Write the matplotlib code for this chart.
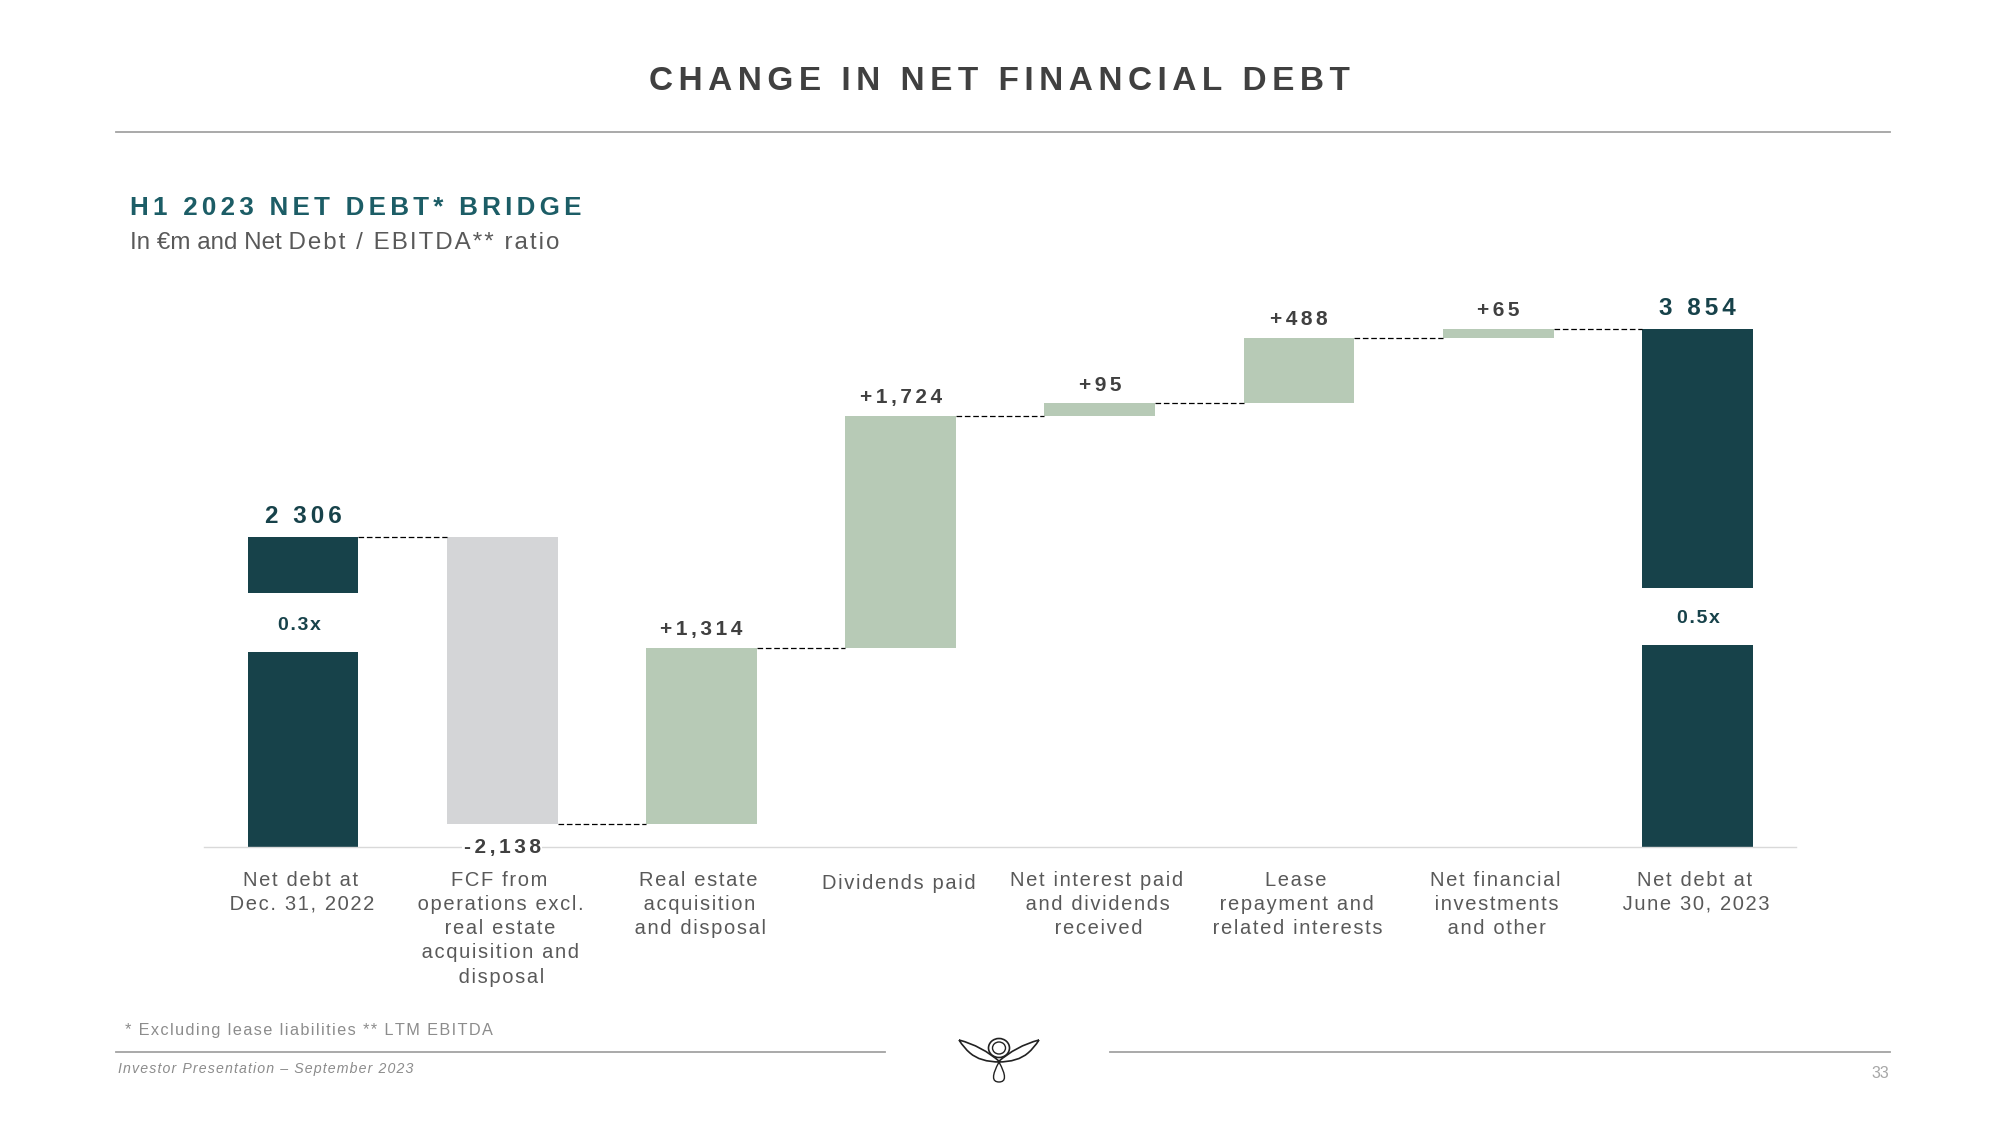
import numpy as np
import matplotlib
matplotlib.use("Agg")
import matplotlib.pyplot as plt
from matplotlib.patches import Ellipse, PathPatch
from matplotlib.path import Path
from matplotlib.transforms import ScaledTranslation

# values, in EUR m
categories = ["Net debt at\nDec. 31, 2022",
              "FCF from\noperations excl.\nreal estate\nacquisition and\ndisposal",
              "Real estate\nacquisition\nand disposal",
              "Dividends paid",
              "Net interest paid\nand dividends\nreceived",
              "Lease\nrepayment and\nrelated interests",
              "Net financial\ninvestments\nand other",
              "Net debt at\nJune 30, 2023"]
opening = 2306
closing = 3854
deltas = [-2138, 1314, 1724, 95, 488, 65]
delta_labels = ["-2,138", "+1,314", "+1,724", "+95", "+488", "+65"]
total_labels = ["2 306", "3 854"]
ratio_labels = ["0.3x", "0.5x"]
# white break in the two dark bars, holds the ratio
gap_low = [1451, 1500]
gap_high = [1892, 1930]

DARK = "#17424a"
TEAL = "#1c5d66"
GREEN = "#b7cab6"
GREY = "#d4d5d7"
TXT = "#595959"
VAL = "#404040"
FONT = ["Liberation Sans", "DejaVu Sans"]
HAIR = "\u200a"


def track(s, n=1):
    # matplotlib has no letter spacing, hair spaces do the job
    return (HAIR * n).join(s)


fig = plt.figure(figsize=(20, 11.25), dpi=100)

# page layer in pixel coordinates
page = fig.add_axes([0, 0, 1, 1])
page.set_xlim(0, 2000)
page.set_ylim(1125, 0)
page.axis("off")

page.plot([116, 1890], [132, 132], color="#a3a3a3", lw=1.3)
page.plot([116, 885], [1052, 1052], color="#a3a3a3", lw=1.3)
page.plot([1110, 1890], [1052, 1052], color="#a3a3a3", lw=1.3)

page.text(999, 82, track("CHANGE IN NET FINANCIAL DEBT", 2), ha="center", va="center",
          color=VAL, fontsize=24, fontweight="bold", family=FONT)
page.text(130, 208, track("H1 2023 NET DEBT* BRIDGE", 2), ha="left", va="center",
          color=TEAL, fontsize=18.7, fontweight="bold", family=FONT)
page.text(130, 243, "In €m and Net " + track("Debt / EBITDA** ratio"), ha="left", va="center",
          color=TXT, fontsize=17.4, family=FONT)
page.text(125, 1030, track("* Excluding lease liabilities ** LTM EBITDA"), ha="left", va="center",
          color="#8c8c8c", fontsize=11.7, family=FONT)
page.text(118, 1069, track("Investor Presentation – September 2023"), ha="left", va="center",
          color="#8c8c8c", fontsize=10.2, style="italic", family=FONT)
page.text(1889, 1074, "33", ha="right", va="center", color="#a6a6a6", fontsize=11.5, family=FONT)

# logo, rough sketch
C3 = Path.CURVE3
wing = [(959, 1040), (982, 1046), (1000, 1062), (980, 1062), (970, 1053), (964, 1048), (959, 1040)]
wing_codes = [Path.MOVETO, C3, C3, C3, C3, C3, C3]
for pts in (wing, [(2 * 999 - px, py) for px, py in wing]):
    page.add_patch(PathPatch(Path(pts, wing_codes), fill=False, ec="#222222", lw=1.2))
page.add_patch(Ellipse((999, 1048), 21, 19, fill=False, ec="#222222", lw=1.2))
page.add_patch(Ellipse((999, 1048), 13, 12, fill=False, ec="#222222", lw=1))
drop = [(999, 1062), (1010, 1082), (999, 1082), (988, 1082), (999, 1062)]
page.add_patch(PathPatch(Path(drop, [Path.MOVETO, C3, C3, C3, C3]), fill=False, ec="#222222", lw=1))

# chart layer: baseline sits at y=847 px on the page
ax = fig.add_axes([204 / 2000, 1 - 847 / 1125, (1796 - 204) / 2000, (847 - 269) / 1125])
ax.patch.set_alpha(0)
ax.set_xlim(-0.497, 7.495)
ax.set_ylim(0, 4300)
for side in ["top", "left", "right"]:
    ax.spines[side].set_visible(False)
ax.spines["bottom"].set_color("#d9d9d9")
ax.spines["bottom"].set_linewidth(1)
ax.set_yticks([])

w = 0.557
x = np.arange(len(categories))
levels = opening + np.cumsum(deltas)

# dark total bars, in two parts
for xi, total, lo, hi in zip([x[0], x[-1]], [opening, closing], gap_low, gap_high):
    ax.bar(xi, lo, w, color=DARK)
    ax.bar(xi, total - hi, w, bottom=hi, color=DARK)

# bridge bars
starts = np.concatenate([[opening], levels[:-1]])
for xi, s, e in zip(x[1:-1], starts, levels):
    ax.bar(xi, abs(e - s), w, bottom=min(s, e), color=GREY if e < s else GREEN)

# connectors
all_levels = np.concatenate([[opening], levels])
for i, lev in enumerate(all_levels):
    ax.plot([x[i] + w / 2, x[i + 1] - w / 2], [lev, lev], color="black", lw=0.9,
            dashes=(4.5, 2.2))

# labels
for xi, total, lab in zip([x[0], x[-1]], [opening, closing], total_labels):
    ax.annotate(track(lab, 2), (xi, total), xytext=(0, 15), textcoords="offset points",
                ha="center", va="center", color=DARK, fontsize=17.5, fontweight="bold", family=FONT)
for xi, lo, hi, lab, off in zip([x[0], x[-1]], gap_low, gap_high, ratio_labels, [(-2.5, -2.5), (1, -1.5)]):
    ax.annotate(track(lab), (xi, (lo + hi) / 2), xytext=off, textcoords="offset points",
                ha="center", va="center", color=DARK, fontsize=14, fontweight="bold", family=FONT)
for xi, s, e, lab in zip(x[1:-1], starts, levels, delta_labels):
    if e < s:
        ax.text(xi, 0, track(lab, 2), ha="center", va="center", color=VAL, fontsize=15,
                fontweight="bold", family=FONT, zorder=5,
                bbox=dict(fc="white", ec="none", pad=1))
    else:
        ax.annotate(track(lab, 2), (xi, e), xytext=(0, 13), textcoords="offset points",
                    ha="center", va="center", color=VAL, fontsize=15, fontweight="bold", family=FONT)

ax.set_xticks(x)
ax.set_xticklabels([track(c) for c in categories], family=FONT, fontsize=14.5, color=TXT,
                   linespacing=1.35)
ax.tick_params(axis="x", length=0, pad=17)
for i, lab in enumerate(ax.get_xticklabels()):
    # labels sit a little left of the bar centre, the one-liner a little lower
    dy = -3 if categories[i] == "Dividends paid" else 0
    lab.set_transform(lab.get_transform() + ScaledTranslation(-2 / 100, dy / 100, fig.dpi_scale_trans))

fig.savefig("out.png", dpi=100, facecolor="white")
